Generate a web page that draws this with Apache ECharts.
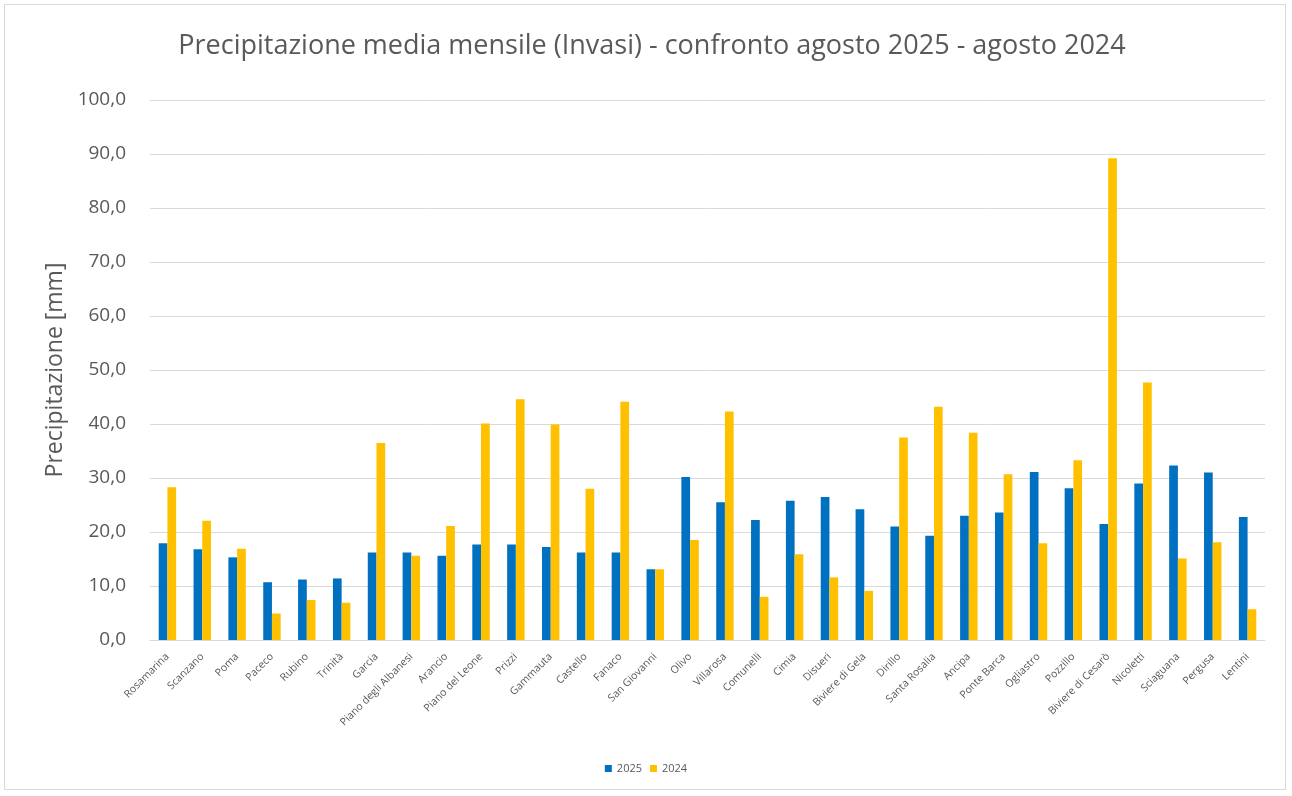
<!DOCTYPE html>
<html>
<head>
<meta charset="utf-8">
<script src="https://cdn.jsdelivr.net/npm/echarts@6/dist/echarts.min.js"></script>
<style>
html,body{margin:0;padding:0;background:#fff;}
#frame{position:absolute;left:4px;top:4px;width:1282px;height:786px;border:1px solid #d9d9d9;box-sizing:border-box;}
#chart{position:absolute;left:0;top:0;width:1292px;height:796px;}
</style>
</head>
<body>
<div id="frame"></div>
<div id="chart"></div>
<script>
const categories = ["Rosamarina","Scanzano","Poma","Paceco","Rubino","Trinità","Garcia","Piano degli Albanesi","Arancio","Piano del Leone","Prizzi","Gammauta","Castello","Fanaco","San Giovanni","Olivo","Villarosa","Comunelli","Cimia","Disueri","Biviere di Gela","Dirillo","Santa Rosalia","Ancipa","Ponte Barca","Ogliastro","Pozzillo","Biviere di Cesarò","Nicoletti","Sciaguana","Pergusa","Lentini"];
const values2025 = [17.9,16.8,15.3,10.7,11.2,11.4,16.2,16.2,15.6,17.7,17.7,17.2,16.2,16.2,13.1,30.2,25.5,22.2,25.8,26.5,24.2,21.0,19.3,23.0,23.6,31.1,28.1,21.5,29.0,32.3,31.0,22.8];
const values2024 = [28.3,22.1,16.9,4.9,7.4,6.9,36.5,15.6,21.1,40.1,44.6,39.9,28.0,44.1,13.1,18.5,42.3,8.0,15.9,11.6,9.1,37.5,43.2,38.4,30.7,17.9,33.3,89.2,47.7,15.1,18.1,5.7];
const seriesNames = ["2025","2024"];
const yTicks = {min:0, max:100, interval:10};

const chart = echarts.init(document.getElementById('chart'));
const fontFam = '"Open Sans", Lato, sans-serif';
chart.setOption({
  animation:false,
  title:{text:'Precipitazione media mensile (Invasi) - confronto agosto 2025 - agosto 2024',left:647,top:28,textAlign:'center',
    textStyle:{fontFamily:fontFam,fontSize:27,fontWeight:'normal',color:'#595959'}},
  legend:{data:seriesNames,bottom:17,left:'center',itemWidth:7,itemHeight:7,itemGap:8,icon:'rect',
    textStyle:{fontFamily:fontFam,fontSize:11,color:'#595959'}},
  grid:{left:150,right:27,top:100,bottom:156,containLabel:false},
  xAxis:{type:'category',data:categories,
    axisLine:{lineStyle:{color:'#d9d9d9'}},axisTick:{show:false},
    axisLabel:{rotate:45,fontFamily:fontFam,fontSize:10.5,color:'#595959',interval:0,margin:15}},
  yAxis:{type:'value',min:yTicks.min,max:yTicks.max,interval:yTicks.interval,
    name:'Precipitazione [mm]',nameLocation:'middle',nameGap:80,
    nameTextStyle:{fontFamily:fontFam,fontSize:23,color:'#595959'},
    axisLine:{show:false},axisTick:{show:false},
    splitLine:{lineStyle:{color:'#d9d9d9',width:1}},
    axisLabel:{fontFamily:fontFam,fontSize:19,color:'#595959',margin:24,
      formatter:v=>v.toFixed(1).replace('.',',')}},
  series:[
    {name:seriesNames[0],type:'bar',data:values2025,itemStyle:{color:'#0070C0'},barGap:'0%',barCategoryGap:'50%'},
    {name:seriesNames[1],type:'bar',data:values2024,itemStyle:{color:'#FFC000'},barGap:'0%',barCategoryGap:'50%'}
  ]
});
</script>
</body>
</html>
